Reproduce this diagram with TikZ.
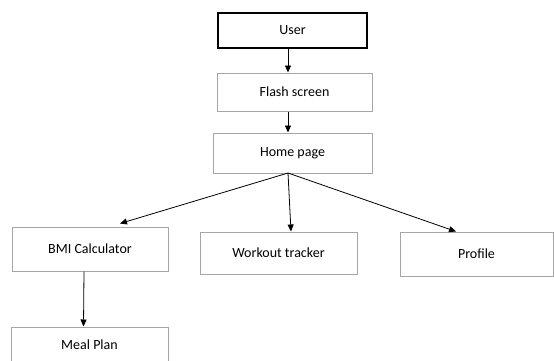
\documentclass[tikz,border=0pt]{standalone}
\usepackage{fontspec}
\setmainfont{Carlito}
\usetikzlibrary{arrows.meta, positioning}
\definecolor{boxgray}{HTML}{A6A6A6}
\tikzset{
  topbox/.style={rectangle, minimum width=149pt, minimum height=35pt,
                 draw=black, line width=1.4pt, fill=white, align=center, font=\fontsize{14}{16}\selectfont},
  pagebox/.style={rectangle, draw=boxgray, line width=1pt, fill=white,
                  align=center, font=\fontsize{14}{16}\selectfont},
  arrow/.style={-{Triangle[length=7pt, width=6pt]}, line width=0.8pt}
}
\begin{document}
\begin{tikzpicture}[x=1pt, y=-1pt]
\useasboundingbox (0,0) rectangle (554,360);
\node (user) [topbox] at (292.5,30.5) {User};
\node (flash) [pagebox, minimum width=155pt, minimum height=38pt] at (294.5,92) {Flash screen};
\node (home) [pagebox, minimum width=159pt, minimum height=40pt] at (292.5,153) {Home page};
\node (bmi) [pagebox, minimum width=156pt, minimum height=44pt] at (90,249) {BMI Calculator};
\node (workout) [pagebox, minimum width=157pt, minimum height=42pt] at (278.5,253) {Workout tracker};
\node (profile) [pagebox, minimum width=153pt, minimum height=44pt] at (476.5,254) {Profile};
\node (meal) [pagebox, minimum width=157pt, minimum height=36pt] at (89.5,345) {Meal Plan};
\coordinate (hub) at (288,173);

% Arrows
\draw [arrow] (user.south -| hub) -- (flash.north -| hub);
\draw [arrow] (flash.south -| hub) -- (home.north -| hub);
\draw [arrow] (hub) -- ([xshift=30pt, yshift=3pt]bmi.north);
\draw [arrow] (hub) -- ([xshift=12.5pt]workout.north);
\draw [arrow] (hub) -- ([xshift=-20.5pt]profile.north);
\draw [arrow] ([xshift=-6pt]bmi.south) -- ([xshift=-6pt]meal.north);
\end{tikzpicture}
\end{document}
